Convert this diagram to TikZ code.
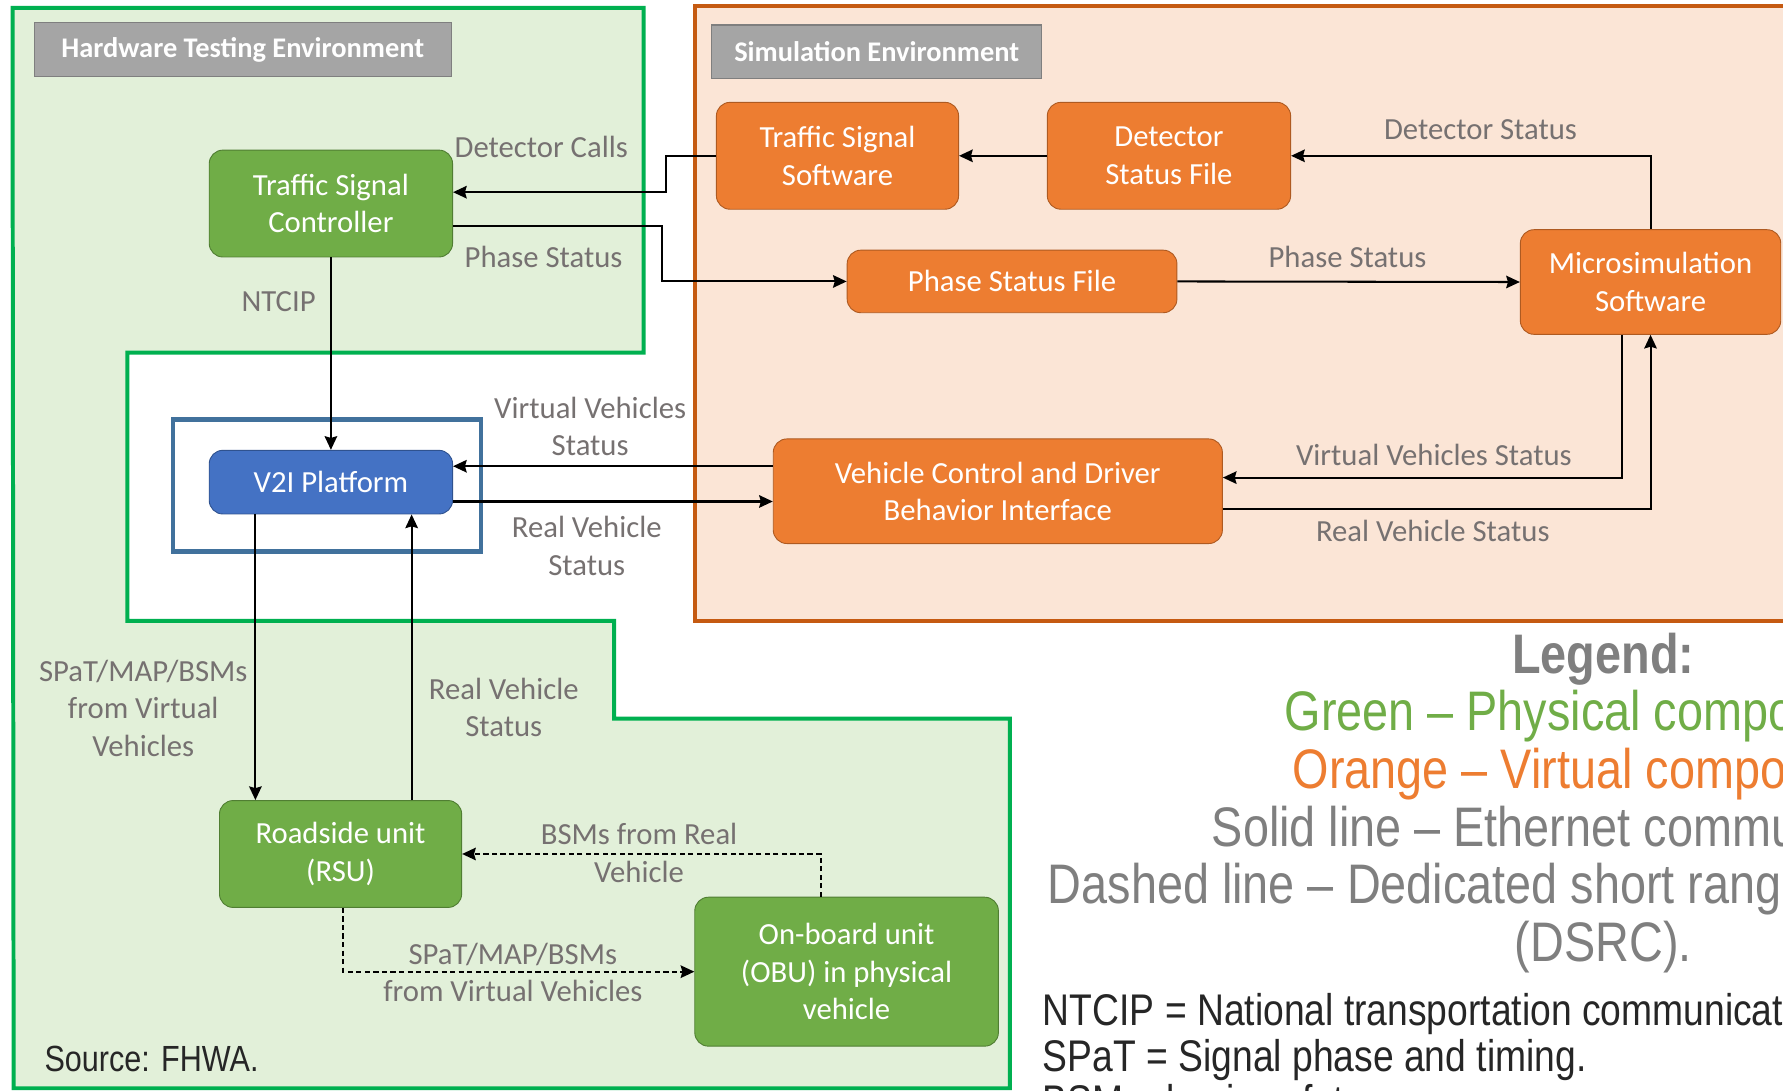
\documentclass[tikz,border=0pt]{standalone}
\usepackage{fontspec}
\setmainfont{Carlito}
\newfontfamily\legendfont{Liberation Sans}[FakeStretch=0.84]
\usetikzlibrary{arrows.meta}
\definecolor{hwgreen}{HTML}{70AD47}
\definecolor{hwgreenline}{HTML}{507E32}
\definecolor{hwframe}{HTML}{00B050}
\definecolor{hwfill}{HTML}{E2F0D9}
\definecolor{simorange}{HTML}{ED7D31}
\definecolor{simorangeline}{HTML}{AE5A21}
\definecolor{simframe}{HTML}{C55A11}
\definecolor{simfill}{HTML}{FBE5D6}
\definecolor{v2iblue}{HTML}{4472C4}
\definecolor{v2iline}{HTML}{2F528F}
\definecolor{v2iframe}{HTML}{41719C}
\definecolor{tagfill}{HTML}{A5A5A5}
\definecolor{tagline}{HTML}{7F7F7F}
\definecolor{lblgray}{HTML}{767171}
\definecolor{legendgray}{HTML}{7F7F7F}
\definecolor{notegray}{HTML}{262626}

\begin{document}
\begin{tikzpicture}[x=1pt, y=-1pt, ->, >={Stealth[length=12pt, width=11pt, inset=1.5pt]},
  box/.style={rounded corners=12pt, draw, line width=0.8pt, text=white, align=center,
    inner sep=0pt, font=\fontsize{27}{33}\selectfont},
  greenbox/.style={box, fill=hwgreen, draw=hwgreenline},
  orangebox/.style={box, fill=simorange, draw=simorangeline},
  bluebox/.style={box, fill=v2iblue, draw=v2iline},
  tag/.style={draw=tagline, fill=tagfill, text=white, inner sep=0pt, line width=1pt,
    font=\bfseries\fontsize{25}{30}\selectfont},
  lbl/.style={text=lblgray, align=center, inner sep=0pt, font=\fontsize{27}{33}\selectfont},
  link/.style={line width=1.8pt},
  dsrc/.style={link, dash pattern=on 4.5pt off 3pt}
]
\useasboundingbox (0,0) rectangle (1568,959);
\clip (0,0) rectangle (1568,959);

% Environments
\filldraw[-, draw=hwframe, fill=hwfill, line width=3.5pt]
  (11,7) -- (566,7) -- (566,310) -- (112,310) -- (112,546) -- (540,546)
  -- (540,632) -- (888,632) -- (888,957) -- (12,957) -- cycle;
\filldraw[-, draw=simframe, fill=simfill, line width=3.5pt] (611,5) rectangle (1600,546);
\draw[-, draw=v2iframe, line width=4pt] (152,369) rectangle (423,485);

\node (hwtag) [tag, minimum width=367pt, minimum height=47pt] at (213.5,43.5) {Hardware Testing Environment};
\node (simtag) [tag, minimum width=290pt, minimum height=47pt] at (771,45.5) {Simulation Environment};

% Nodes
\node (tsc) [greenbox, minimum width=214pt, minimum height=94pt] at (291,179) {Traffic Signal\\Controller};
\node (tss) [orangebox, minimum width=213pt, minimum height=94pt] at (736.5,137) {Traffic Signal\\Software};
\node (dsf) [orangebox, minimum width=214pt, minimum height=94pt] at (1028,137) {Detector\\Status File};
\node (psf) [orangebox, minimum width=290pt, minimum height=55pt] at (890,247.5) {Phase Status File};
\node (mss) [orangebox, minimum width=229pt, minimum height=92pt] at (1451.5,248) {Microsimulation\\Software};
\node (v2i) [bluebox, minimum width=214pt, minimum height=56pt] at (291,424) {V2I Platform};
\node (vcd) [orangebox, minimum width=395pt, minimum height=92pt] at (877.5,432) {Vehicle Control and Driver\\Behavior Interface};
\node (rsu) [greenbox, minimum width=213pt, minimum height=94pt] at (299.5,751) {Roadside unit\\(RSU)};
\node (obu) [greenbox, minimum width=267pt, minimum height=131pt] at (744.5,854.5) {On-board unit\\(OBU) in physical\\vehicle};

% Edges
\draw[link] (tss.west) -- ++(-44,0) |- ([yshift=10pt]tsc.east);
\draw[link] ([yshift=-20pt]tsc.east) -- ++(184,0) |- (psf.west);
\draw[link] (dsf.west) -- (tss.east);
\draw[link] (mss.north) |- (dsf.east);
\draw[link] (psf.east) -- (mss.west);
\draw[link] (tsc.south) -- (v2i.north);
\coordinate (vvs) at ([yshift=22pt]vcd.west);
\draw[link] (vvs) -- (vvs -| v2i.east);
\coordinate (rvs) at ([yshift=-17pt]v2i.east);
\draw[link] (rvs) -- (rvs -| vcd.west);
\draw[link] ([xshift=-25pt]mss.south) |- ([yshift=12pt]vcd.east);
\draw[link] ([yshift=-16pt]vcd.east) -| (mss.south);
\coordinate (down) at ([xshift=41pt]v2i.south west);
\draw[link] (down) -- (down |- rsu.north);
\coordinate (up) at ([xshift=62.5pt]rsu.north);
\draw[link] (up) -- (up |- v2i.south);
\draw[dsrc] ([xshift=-22.5pt]obu.north) |- (rsu.east);
\draw[dsrc] ([xshift=2.5pt]rsu.south) |- (obu.west);

% Edge labels
\node (l1) [lbl] at (476,129) {Detector Calls};
\node (l2) [lbl] at (478,226) {Phase Status};
\node (l3) [lbl] at (1302,114) {Detector Status};
\node (l4) [lbl] at (1185,226) {Phase Status};
\node (l5) [lbl] at (245,265) {NTCIP};
\node (l6) [lbl] at (519,375) {Virtual Vehicles\\Status};
\node (l7) [lbl] at (516,480) {Real Vehicle\\Status};
\node (l8) [lbl] at (1261,400) {Virtual Vehicles Status};
\node (l9) [lbl] at (1260,467) {Real Vehicle Status};
\node (l10) [lbl] at (126,623) {SPaT/MAP/BSMs\\from Virtual\\Vehicles};
\node (l11) [lbl] at (443,622) {Real Vehicle\\Status};
\node (l12) [lbl] at (562,750) {BSMs from Real\\Vehicle};
\node (l13) [lbl] at (451,855) {SPaT/MAP/BSMs\\from Virtual Vehicles};

% Legend and notes
\node (legend) [text=legendgray, align=center, inner sep=0pt,
  font=\legendfont\fontsize{49}{50.6}\selectfont] at (1410,706)
  {\textbf{Legend:}\\
   \textcolor{hwgreen}{Green – Physical components.}\\
   \textcolor{simorange}{Orange – Virtual components.}\\
   Solid line – Ethernet communications.\\
   Dashed line – Dedicated short range communications\\
   (DSRC).};
\node (notes) [text=notegray, align=left, inner sep=0pt, anchor=west,
  font=\legendfont\fontsize{39}{40}\selectfont] at (917,932)
  {NTCIP = National transportation communications for intelligent transportation system protocol.\\
   SPaT = Signal phase and timing.\\
   BSM = basic safety message.};
\node (source) [text=notegray, inner sep=0pt, anchor=west,
  font=\legendfont\fontsize{32}{36}\selectfont] at (39,931) {Source: FHWA.};

\end{tikzpicture}
\end{document}
